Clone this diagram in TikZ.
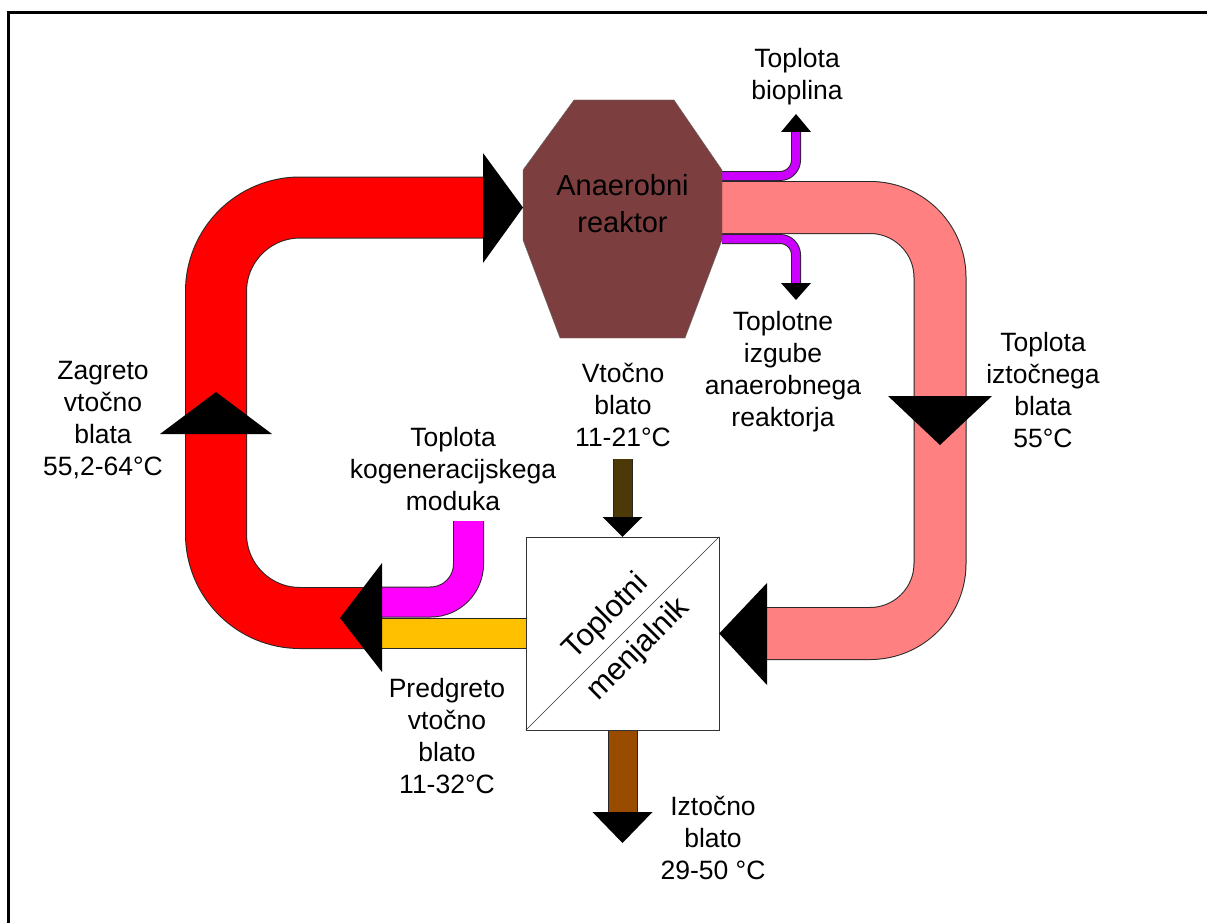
\documentclass[tikz,border=0pt]{standalone}
\usepackage{fontspec}
\setmainfont{Liberation Sans}
\usepackage{xcolor}
\usepackage{tikz}
\usetikzlibrary{positioning}
\definecolor{zagreto}{RGB}{255,0,0}
\definecolor{iztocno}{RGB}{255,128,128}
\definecolor{kogen}{RGB}{255,0,255}
\definecolor{predgreto}{RGB}{255,192,0}
\definecolor{plin}{RGB}{204,0,255}
\definecolor{reaktor}{RGB}{124,62,62}
\definecolor{dotok}{RGB}{77,57,8}
\definecolor{odtok}{RGB}{153,76,0}
\tikzset{
  pipe/.style={draw=black!85, double=#1, line width=1pt},
  head/.style={fill=black},
  lbl/.style={align=center, inner sep=0pt, font=\fontsize{26.5}{32}\selectfont}
}

\begin{document}
\begin{tikzpicture}[
      x=1pt, y=-1pt,
      bigtxt/.style={align=center, inner sep=0pt, font=\fontsize{29}{37}\selectfont},
      menjalnik/.style={draw=black!80, fill=white, minimum size=193pt, inner sep=0pt}
      ]
      \fill[white] (0,0) rectangle (1207,923);
      \useasboundingbox (0,0) rectangle (1207,923);
      \draw[line width=3pt] (1212,13) -- (8,13) -- (8,928);

      % Vozlisca
      \node[menjalnik] (hx) at (622.5,633.5) {};
      \coordinate (rin) at (523,207.5);
      \coordinate (rout) at (722,207.5);
      \coordinate (mesanje) at (382,618);
      \coordinate (kogvir) at (468.5,521);
      \coordinate (vtok) at (622.5,459);
      \coordinate (iztok) at (622.5,812);
      \coordinate (plinvrh) at (796,132);
      \coordinate (izgube) at (796,283);

      % Cevi
      \draw[pipe=zagreto, double distance=60pt, rounded corners=84pt] (mesanje) -- (216,618) |- (483,207.5);
      \draw[pipe=iztocno, double distance=51pt, rounded corners=70pt] (rout) -- (940,207.5) |- (767,633.5);
      \draw[pipe=plin, double distance=8pt, rounded corners=16pt] (722,176) -| (plinvrh);
      \draw[pipe=plin, double distance=8pt, rounded corners=16pt] (722,239) -| (izgube);
      \draw[pipe=kogen, double distance=29pt, rounded corners=38pt] (kogvir) |- (382,602);
      \draw[pipe=predgreto, double distance=29pt] (hx.west) -- (382,633.5);
      \draw[pipe=dotok, double distance=18pt] (vtok) -- (622.5,517);
      \draw[pipe=odtok, double distance=28pt] (hx.south) -- (iztok);

      % Reaktor
      \draw[draw=black!60, fill=reaktor] (574,100) -- (674,100) -- (722,170) -- (722,240)
            -- (685,338) -- (560,338) -- (523,240) -- (523,170) -- cycle;
      \node[bigtxt] (reactor) at (622.5,204) {Anaerobni\\reaktor};

      % Menjalnik
      \node[menjalnik] at (hx) {};
      \draw[black!80] (hx.south west) -- (hx.north east);
      \node[lbl, rotate=45, font=\fontsize{31}{46}\selectfont] (hxtxt) at (hx.center) {Toplotni\\menjalnik};

      % Puscice
      \fill[head] (483,153) -- (rin) -- (483,263) -- cycle;
      \fill[head] (160,434) -- (216,392) -- (272,434) -- cycle;
      \fill[head] (382,563) -- (340,618) -- (382,672) -- cycle;
      \fill[head] (888,396) -- (940,445) -- (992,396) -- cycle;
      \fill[head] (767,583) -- (hx.east) -- (767,685) -- cycle;
      \fill[head] (781,132) -- (796,114) -- (811,132) -- cycle;
      \fill[head] (781,283) -- (796,300) -- (811,283) -- cycle;
      \fill[head] (602.5,517) -- (hx.north) -- (642.5,517) -- cycle;
      \fill[head] (592.5,812) -- (622.5,843) -- (652.5,812) -- cycle;

      % Oznake
      \node[lbl] (bioplin) at (797,77) {Toplota\\bioplina};
      \node[lbl] (izgubelbl) at (783,372) {Toplotne\\izgube\\anaerobnega\\reaktorja};
      \node[lbl] (iztoklbl) at (1043,390) {Toplota\\iztočnega\\blata\\55°C};
      \node[lbl] (zagretolbl) at (103,420) {Zagreto\\vtočno\\blata\\55,2-64°C};
      \node[lbl] (vtoklbl) at (623,405) {Vtočno\\blato\\11-21°C};
      \node[lbl] (kogenlbl) at (453,469) {Toplota\\kogeneracijskega\\moduka};
      \node[lbl] (predgretolbl) at (447,736) {Predgreto\\vtočno\\blato\\11-32°C};
      \node[lbl] (odtoklbl) at (713,838) {Iztočno\\blato\\29-50 °C};

\end{tikzpicture}
\end{document}
